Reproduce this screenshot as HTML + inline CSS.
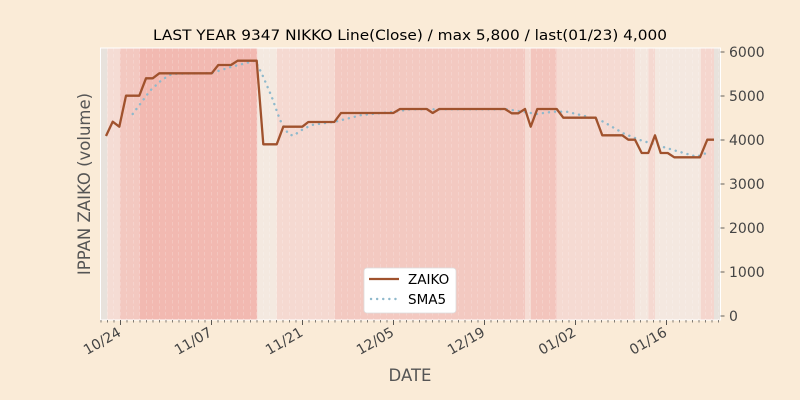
<!DOCTYPE html>
<html><head><meta charset="utf-8"><style>
body{margin:0;background:#faebd7;}
svg{display:block;font-family:"DejaVu Sans","Liberation Sans",sans-serif;}
</style></head><body>
<svg width="800" height="400" viewBox="0 0 800 400" xmlns="http://www.w3.org/2000/svg">
<defs>
<pattern id="dl" x="100.5" y="0" width="6.5" height="6" patternUnits="userSpaceOnUse">
<line x1="0" y1="0" x2="0" y2="3.5" stroke="#ffffff" stroke-opacity="0.45" stroke-width="0.8"/>
</pattern>
</defs>
<rect width="800" height="400" fill="#faebd7"/>
<text x="410" y="40" font-size="14" text-anchor="middle" fill="#000" textLength="514" lengthAdjust="spacingAndGlyphs">LAST YEAR 9347 NIKKO Line(Close) / max 5,800 / last(01/23) 4,000</text>
<g>
<rect x="100.5" y="48" width="620" height="272" fill="#ffffff"/>
<rect x="101" y="48" width="6.3" height="272" fill="#e8e2dc"/>
<rect x="107.3" y="48" width="12.7" height="272" fill="#f5dcd4"/>
<rect x="120" y="48" width="19.3" height="272" fill="#f3c8c0"/>
<rect x="139.3" y="48" width="118" height="272" fill="#f2b9b1"/>
<rect x="257.3" y="48" width="19.4" height="272" fill="#f4e9e0"/>
<rect x="276.7" y="48" width="58.3" height="272" fill="#f5d9d1"/>
<rect x="335" y="48" width="190" height="272" fill="#f3c9c1"/>
<rect x="525" y="48" width="6" height="272" fill="#f5dcd4"/>
<rect x="531" y="48" width="25.7" height="272" fill="#f3c5bd"/>
<rect x="556.7" y="48" width="78.3" height="272" fill="#f5dad2"/>
<rect x="635" y="48" width="13.3" height="272" fill="#f4e7df"/>
<rect x="648.3" y="48" width="6.7" height="272" fill="#f5d9d1"/>
<rect x="655" y="48" width="45.7" height="272" fill="#f4e8e0"/>
<rect x="700.7" y="48" width="13.3" height="272" fill="#f5d6ce"/>
<rect x="714" y="48" width="6.7" height="272" fill="#e8e2dc"/>
<rect x="100.5" y="48" width="620" height="272" fill="url(#dl)"/>
</g>
<polyline fill="none" stroke="#8fb9cc" stroke-width="2.4" stroke-dasharray="0.1,6" stroke-linecap="round" points="132.7,114 141.7,102 150,90.7 161.7,80 171.7,74 211.7,73 231,67 255,60.7 261.7,73.3 271.7,96.7 280,120 288.3,134 293.3,135.7 301.7,130 311.7,125 335,121.7 361.7,115 395,111.7 410,109.3 506.7,109.3 523,111.7 536.7,114 553,111.7 566.7,111.7 590,117.3 603.3,121.7 623.3,133.3 640,140 656.7,145 676.7,151 696.7,156.7 710,151.7"/>
<polyline fill="none" stroke="#a0522d" stroke-width="2.3" stroke-linejoin="round" points="106,136 112.7,121.7 119.3,126.7 126,95.7 139.3,95.7 146,78.3 152.7,78.3 159.3,73.3 211.7,73.3 218.3,65 231,65 237.7,60.7 256.7,60.7 263.3,144.3 276.7,144.3 283.3,126.7 302.3,126.7 308.3,122 334.3,122 341,113 393.3,113 400,109 426.7,109 432.7,113 439.3,109 505,109 511.7,113.3 518.3,113.3 525,109 530.7,126.7 537.3,109 556.7,109 563.3,117.7 595.7,117.7 602.3,135.3 622.3,135.3 628.3,139.7 635,139.7 641.7,153 648.3,153 655,135.3 660.7,153 667.7,153 674.3,157.3 700,157.3 707.3,139.7 714,139.7"/>
<rect x="100.5" y="48" width="620" height="272" fill="none" stroke="#ffffff" stroke-width="1"/>
<g stroke="#333" stroke-width="0.8">
<path d="M720.5 52h4M720.5 96h4M720.5 140h4M720.5 184h4M720.5 228h4M720.5 272h4M720.5 316h4"/>
<path d="M120.5 320v5M211.5 320v5M302.5 320v5M393.5 320v5M484.5 320v5M575.5 320v5M666.5 320v5"/>
</g>
<g stroke="#333" stroke-width="0.6">
<path d="M101 320v2.5M107.5 320v2.5M114 320v2.5M127 320v2.5M133.5 320v2.5M140 320v2.5M146.5 320v2.5M153 320v2.5M159.5 320v2.5M166 320v2.5M172.5 320v2.5M179 320v2.5M185.5 320v2.5M192 320v2.5M198.5 320v2.5M205 320v2.5M218 320v2.5M224.5 320v2.5M231 320v2.5M237.5 320v2.5M244 320v2.5M250.5 320v2.5M257 320v2.5M263.5 320v2.5M270 320v2.5M276.5 320v2.5M283 320v2.5M289.5 320v2.5M296 320v2.5M309 320v2.5M315.5 320v2.5M322 320v2.5M328.5 320v2.5M335 320v2.5M341.5 320v2.5M348 320v2.5M354.5 320v2.5M361 320v2.5M367.5 320v2.5M374 320v2.5M380.5 320v2.5M387 320v2.5M400 320v2.5M406.5 320v2.5M413 320v2.5M419.5 320v2.5M426 320v2.5M432.5 320v2.5M439 320v2.5M445.5 320v2.5M452 320v2.5M458.5 320v2.5M465 320v2.5M471.5 320v2.5M478 320v2.5M491 320v2.5M497.5 320v2.5M504 320v2.5M510.5 320v2.5M517 320v2.5M523.5 320v2.5M530 320v2.5M536.5 320v2.5M543 320v2.5M549.5 320v2.5M556 320v2.5M562.5 320v2.5M569 320v2.5M582 320v2.5M588.5 320v2.5M595 320v2.5M601.5 320v2.5M608 320v2.5M614.5 320v2.5M621 320v2.5M627.5 320v2.5M634 320v2.5M640.5 320v2.5M647 320v2.5M653.5 320v2.5M660 320v2.5M673 320v2.5M679.5 320v2.5M686 320v2.5M692.5 320v2.5M699 320v2.5M705.5 320v2.5M712 320v2.5M718.5 320v2.5"/>
</g>
<g font-size="14" fill="#444">
<text x="729" y="57">6000</text>
<text x="729" y="101">5000</text>
<text x="729" y="145">4000</text>
<text x="729" y="189">3000</text>
<text x="729" y="233">2000</text>
<text x="729" y="277">1000</text>
<text x="729" y="321">0</text>
</g>
<g font-size="14" fill="#444" text-anchor="end">
<text transform="translate(122,335) rotate(-30)">10/24</text>
<text transform="translate(213,335) rotate(-30)">11/07</text>
<text transform="translate(304,335) rotate(-30)">11/21</text>
<text transform="translate(395,335) rotate(-30)">12/05</text>
<text transform="translate(486,335) rotate(-30)">12/19</text>
<text transform="translate(577,335) rotate(-30)">01/02</text>
<text transform="translate(668,335) rotate(-30)">01/16</text>
</g>
<text x="410" y="381" font-size="16.5" text-anchor="middle" fill="#555">DATE</text>
<text transform="translate(90,184) rotate(-90)" font-size="16.5" text-anchor="middle" fill="#555">IPPAN ZAIKO (volume)</text>
<g>
<rect x="364" y="268" width="92" height="45" rx="3" fill="#ffffff" stroke="#dddddd" stroke-width="0.8"/>
<line x1="369" y1="279" x2="399" y2="279" stroke="#a0522d" stroke-width="2.3"/>
<line x1="371" y1="299" x2="399" y2="299" stroke="#8fb9cc" stroke-width="2.4" stroke-dasharray="0.1,6" stroke-linecap="round"/>
<text x="408" y="284" font-size="13.5" fill="#000">ZAIKO</text>
<text x="408" y="304" font-size="13.5" fill="#000">SMA5</text>
</g>
</svg>
</body></html>
